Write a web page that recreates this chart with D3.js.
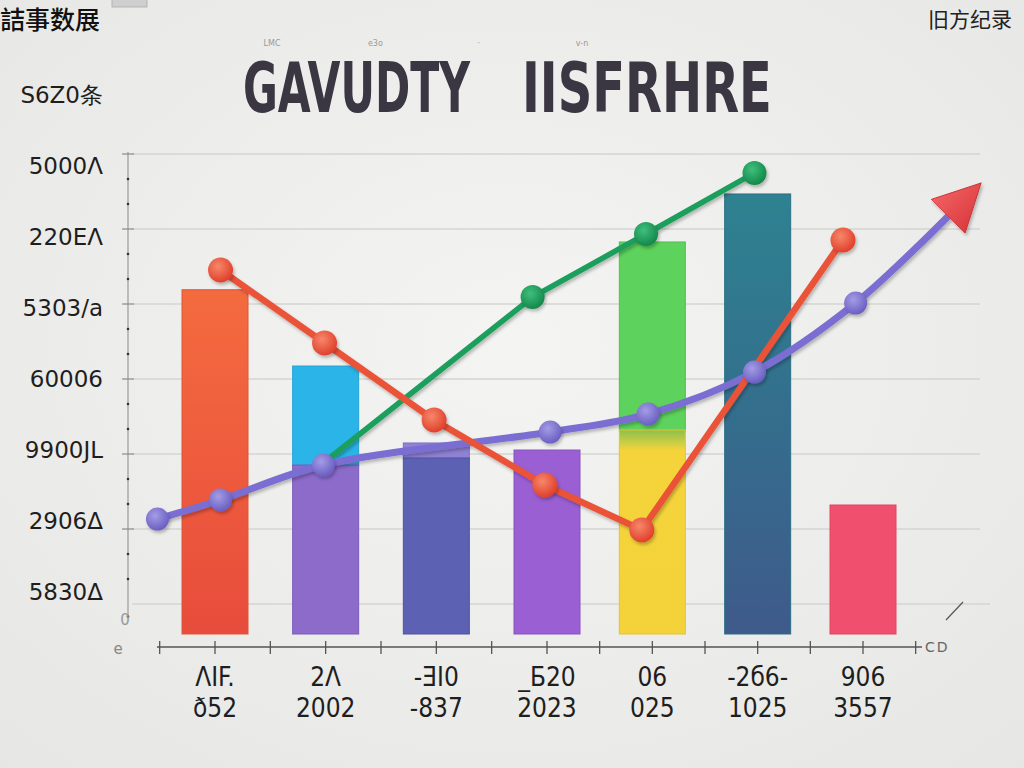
<!DOCTYPE html>
<html><head><meta charset="utf-8">
<script src="https://cdn.jsdelivr.net/npm/d3@7"></script>
<style>html,body{margin:0;padding:0;background:#efefed;} svg{display:block}</style>
</head><body>
<svg id="chart" width="1024" height="768"></svg>
<script>
// ---------- data ----------
const categories = [0, 1, 2, 3, 4, 5, 6];
const xLabelsTop = ["ΛΙF.", "2Λ", "-ƎΙ0", "_Б20", "06", "-2б6-", "906"];
const xLabelsBottom = ["ð52", "2002", "-837", "2023", "025", "1025", "3557"];
const yGridValues = [0, 1000, 2000, 3000, 4000, 5000, 6000];
const yLabels = ["S6Z0条", "5000Λ", "220EΛ", "5303/a", "60006", "9900JL", "2906Δ", "5830Δ"];
const barTotal = [4190, 3173, 2147, 2053, 4827, 5467, 1320];
const barLower = [null, 1853, 1947, null, 2320, null, null];
const redSeries = [[0.05, 4453], [0.99, 3480], [1.98, 2453], [2.98, 1587], [3.90, 987], [5.81, 4853]];
const greenSeries = [[0.99, 1893], [2.87, 4093], [3.94, 4933], [4.97, 5747]];
const purpleSeries = [[-0.52, 1133], [0.05, 1387], [0.98, 1853], [3.03, 2293], [3.96, 2533], [4.97, 3093], [5.93, 4013], [6.82, 5187]];
const titleWords = ["GAVUDTY", "IISFRHRE"];
const cornerLeft = "詰事数展";
const cornerRight = "旧方纪录";
const tinyNotes = ["LMC", "e3o", "·", "v-n"];

// ---------- styles ----------
const upperFill = ["url(#gOrange)", "#2ab4e7", "#8f81d3", "#9a5fd2", "#5dd25c", "url(#gTeal)", "#f0506e"];
const lowerFill = [null, "#8c6bcb", "#5d61b4", null, "url(#gYellow)", null, null];
const upperStroke = ["#e0553a", "#25a3d6", "#7d6fc6", "#8a52c2", "#4ec24d", "#2c6f86", "#de4762"];
const lowerStroke = [null, "#7a5bba", "#5053a3", null, "#e6c230", null, null];

const svg = d3.select("#chart");
const W = 1024, H = 768;

const defs = svg.append("defs");
const bg = defs.append("radialGradient").attr("id", "gBg").attr("cx", "50%").attr("cy", "45%").attr("r", "75%");
bg.append("stop").attr("offset", "0%").attr("stop-color", "#f4f4f2");
bg.append("stop").attr("offset", "100%").attr("stop-color", "#e6e6e4");
function lin(id, stops) {
  const g = defs.append("linearGradient").attr("id", id).attr("x1", 0).attr("y1", 0).attr("x2", 0).attr("y2", 1);
  stops.forEach(s => g.append("stop").attr("offset", s[0]).attr("stop-color", s[1]));
}
lin("gOrange", [["0%", "#f46b3f"], ["100%", "#e84c3c"]]);
lin("gTeal", [["0%", "#2e8290"], ["45%", "#33708d"], ["100%", "#3f5a8b"]]);
lin("gYellow", [["0%", "#8fbf4c"], ["6%", "#c9cd46"], ["10%", "#f5d43b"], ["100%", "#f4d23a"]]);
function rad(id, c0, c1) {
  const g = defs.append("radialGradient").attr("id", id).attr("cx", "40%").attr("cy", "35%").attr("r", "65%");
  g.append("stop").attr("offset", "0%").attr("stop-color", c0);
  g.append("stop").attr("offset", "100%").attr("stop-color", c1);
}
rad("sRed", "#f7876a", "#e0402c");
rad("sGreen", "#3fbf7c", "#14884a");
rad("sPurple", "#a59ce6", "#6a5fc2");
const sh = defs.append("filter").attr("id", "shadow").attr("x", "-10%").attr("y", "-10%").attr("width", "130%").attr("height", "130%");
sh.append("feDropShadow").attr("dx", 1.5).attr("dy", 2.5).attr("stdDeviation", 1.5).attr("flood-color", "#000").attr("flood-opacity", 0.25);
const arrowG = defs.append("linearGradient").attr("id", "gArrow").attr("x1", 0).attr("y1", 0).attr("x2", 0).attr("y2", 1);
arrowG.append("stop").attr("offset", "0%").attr("stop-color", "#f26062");
arrowG.append("stop").attr("offset", "100%").attr("stop-color", "#d93a3e");
defs.append("marker").attr("id", "arrow").attr("markerUnits", "userSpaceOnUse")
  .attr("viewBox", "0 -24 48 48").attr("refX", 2).attr("refY", 0)
  .attr("markerWidth", 48).attr("markerHeight", 48).attr("orient", "auto")
  .append("path").attr("d", "M0,-24L47,0L0,24Z").attr("fill", "url(#gArrow)")
  .attr("stroke", "#c8363a").attr("stroke-width", 1);

svg.append("rect").attr("width", W).attr("height", H).attr("fill", "url(#gBg)");

// ---------- scales ----------
const x = d3.scaleLinear().domain([0, 3, 6]).range([215, 547, 863]);
const y = d3.scaleLinear().domain([-400, 6000]).range([634, 154]);
const yLab = d3.scalePoint().domain(yLabels).range([95, 592]);
const barW = 66;

// ---------- gridlines ----------
svg.append("g").selectAll("line").data(yGridValues).join("line")
  .attr("x1", 132).attr("x2", (d, i) => i === 0 ? 990 : 980)
  .attr("y1", d => y(d)).attr("y2", d => y(d))
  .attr("stroke", "#d4d4d2").attr("stroke-width", 1.6);
svg.append("line").attr("x1", 946).attr("y1", 620).attr("x2", 963).attr("y2", 602)
  .attr("stroke", "#555").attr("stroke-width", 1.2);

// ---------- y axis ----------
const ya = svg.append("g");
ya.append("line").attr("x1", 128).attr("x2", 128).attr("y1", y(6000) - 2).attr("y2", y(-150))
  .attr("stroke", "#9a9a9a").attr("stroke-width", 1.2);
ya.selectAll(".tk").data(yGridValues.slice(1)).join("line")
  .attr("x1", 122).attr("x2", 134).attr("y1", d => y(d)).attr("y2", d => y(d))
  .attr("stroke", "#8a8a8a").attr("stroke-width", 1.2);
const minor = [];
yGridValues.forEach(v => { if (v < 6000) { minor.push(v + 333); minor.push(v + 667); } });
minor.push(-167);
ya.selectAll(".mn").data(minor).join("circle")
  .attr("cx", 128).attr("cy", d => y(d)).attr("r", 1.3).attr("fill", "#333");
ya.append("text").attr("x", 125).attr("y", y(-200) + 6).attr("text-anchor", "middle")
  .attr("font-family", "DejaVu Sans").attr("font-size", 15).attr("fill", "#999").text("0");
ya.append("text").attr("x", 118).attr("y", 654).attr("text-anchor", "middle")
  .attr("font-family", "DejaVu Sans").attr("font-size", 15).attr("fill", "#888").text("e");
ya.selectAll(".lab").data(yLabels).join("text")
  .attr("x", 103).attr("y", d => yLab(d)).attr("dy", "0.36em").attr("text-anchor", "end")
  .attr("font-family", "DejaVu Sans").attr("font-size", 23).attr("fill", "#1e1e1e")
  .text(d => d);

// ---------- bars ----------
const bars = svg.append("g");
categories.forEach(i => {
  const lo = barLower[i];
  const x0 = x(i) - barW / 2;
  bars.append("rect").attr("x", x0).attr("width", barW)
    .attr("y", y(barTotal[i])).attr("height", y(lo === null ? -400 : lo) - y(barTotal[i]) + (lo === null ? 0 : 1))
    .attr("fill", upperFill[i]).attr("stroke", upperStroke[i]).attr("stroke-width", 1);
  if (lo !== null) {
    bars.append("rect").attr("x", x0).attr("width", barW)
      .attr("y", y(lo)).attr("height", y(-400) - y(lo))
      .attr("fill", lowerFill[i]).attr("stroke", lowerStroke[i]).attr("stroke-width", 1);
  }
});

// ---------- x axis ----------
const xa = svg.append("g");
xa.append("line").attr("x1", 157).attr("x2", 922).attr("y1", 647).attr("y2", 647)
  .attr("stroke", "#555").attr("stroke-width", 1.5);
const xt = d3.range(-0.5, 6.51, 0.5);
xa.selectAll(".xt").data(xt).join("line")
  .attr("x1", d => x(d)).attr("x2", d => x(d)).attr("y1", 641).attr("y2", 654)
  .attr("stroke", "#555").attr("stroke-width", 1.3);
xa.append("text").attr("x", 925).attr("y", 652).attr("font-family", "DejaVu Sans").attr("font-size", 14)
  .attr("letter-spacing", 2).attr("fill", "#666").text("CD");
xa.selectAll(".l1").data(categories).join("text")
  .attr("x", d => x(d)).attr("y", 677).attr("dy", "0.36em").attr("text-anchor", "middle")
  .attr("font-family", "DejaVu Sans Condensed, DejaVu Sans").attr("font-size", 26).attr("fill", "#1e1e1e")
  .text(d => xLabelsTop[d]);
xa.selectAll(".l2").data(categories).join("text")
  .attr("x", d => x(d)).attr("y", 708).attr("dy", "0.36em").attr("text-anchor", "middle")
  .attr("font-family", "DejaVu Sans Condensed, DejaVu Sans").attr("font-size", 26).attr("fill", "#1e1e1e")
  .text(d => xLabelsBottom[d]);

// ---------- lines ----------
const lineLin = d3.line().x(d => x(d[0])).y(d => y(d[1]));
const lineCurve = d3.line().x(d => x(d[0])).y(d => y(d[1])).curve(d3.curveCatmullRom.alpha(0.5));
const lg = svg.append("g").attr("filter", "url(#shadow)");
lg.append("path").datum(purpleSeries).attr("d", lineCurve).attr("fill", "none")
  .attr("stroke", "#7a6ed2").attr("stroke-width", 7).attr("stroke-linecap", "round")
  .attr("marker-end", "url(#arrow)");
lg.append("path").datum(greenSeries).attr("d", lineLin).attr("fill", "none")
  .attr("stroke", "#1c9e5c").attr("stroke-width", 5.5).attr("stroke-linecap", "round");
lg.append("path").datum(redSeries).attr("d", lineLin).attr("fill", "none")
  .attr("stroke", "#ea5238").attr("stroke-width", 6.5).attr("stroke-linecap", "round");

const mk = svg.append("g").attr("filter", "url(#shadow)");
mk.selectAll(".pm").data(purpleSeries.slice(0, -1)).join("circle")
  .attr("cx", d => x(d[0])).attr("cy", d => y(d[1])).attr("r", 11.5).attr("fill", "url(#sPurple)");
mk.selectAll(".gm").data(greenSeries.slice(1)).join("circle")
  .attr("cx", d => x(d[0])).attr("cy", d => y(d[1])).attr("r", 12).attr("fill", "url(#sGreen)");
mk.selectAll(".rm").data(redSeries).join("circle")
  .attr("cx", d => x(d[0])).attr("cy", d => y(d[1])).attr("r", 12.5).attr("fill", "url(#sRed)");

// ---------- title & corner texts ----------
const tg = svg.append("g");
const titleSpans = [[243, 227], [522, 250]];
titleWords.forEach((w, i) => {
  const t = tg.append("text").attr("x", 0).attr("y", 0)
    .attr("font-family", "Liberation Sans Narrow, DejaVu Sans Condensed, sans-serif").attr("font-weight", "bold")
    .attr("font-size", 70).attr("fill", "#3a3642").text(w);
  const nat = t.node().getComputedTextLength();
  t.attr("transform", `translate(${titleSpans[i][0]},112) scale(${titleSpans[i][1] / nat},1)`);
});
const tinyX = d3.scalePoint().domain(tinyNotes).range([272, 582]);
tg.selectAll(".tiny").data(tinyNotes).join("text")
  .attr("x", d => tinyX(d)).attr("y", 46).attr("text-anchor", "middle")
  .attr("font-family", "DejaVu Sans").attr("font-size", 8).attr("fill", "#9a9a9a").text(d => d);
tg.append("text").attr("x", 0).attr("y", 29).attr("font-family", "Noto Sans CJK SC").attr("font-weight", 500)
  .attr("font-size", 25).attr("fill", "#111").text(cornerLeft);
tg.append("text").attr("x", 928).attr("y", 27).attr("font-family", "Noto Sans CJK SC")
  .attr("font-size", 21).attr("fill", "#222").text(cornerRight);
tg.append("rect").attr("x", 112).attr("y", -2).attr("width", 35).attr("height", 9)
  .attr("fill", "#cfcfcf").attr("stroke", "#aaa").attr("stroke-width", 0.8);
</script>
</body></html>
